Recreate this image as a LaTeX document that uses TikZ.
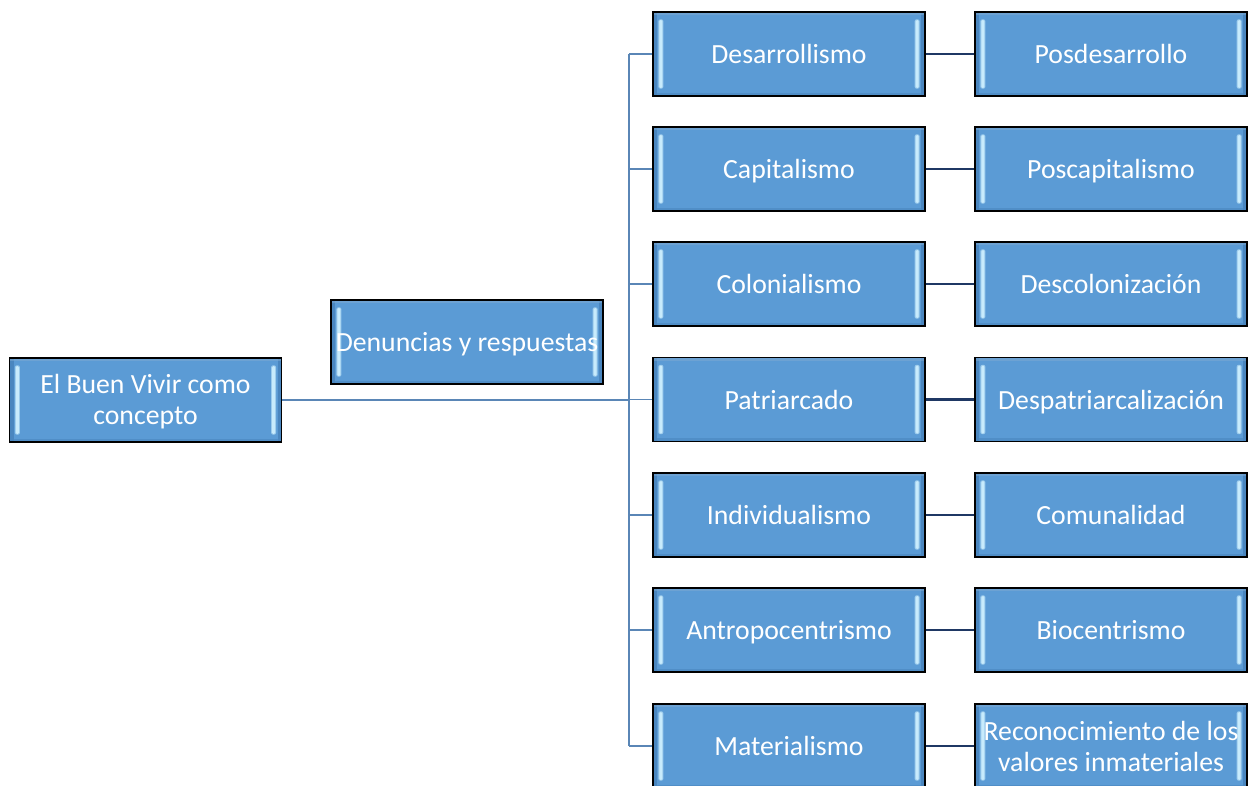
\documentclass[tikz,border=0pt]{standalone}
\usepackage{fontspec}
\setmainfont{Carlito}
\definecolor{boxblue}{HTML}{5B9BD5}
\definecolor{bevel}{HTML}{C8EBFC}
\definecolor{edgeblue}{HTML}{4A86BF}
\definecolor{conn}{HTML}{5A86B6}
\definecolor{link}{HTML}{1F3864}
\begin{document}
\begin{tikzpicture}[x=0.75pt,y=-0.75pt,
  box/.style={draw=black, line width=1.4pt, fill=boxblue, text=white,
    minimum width=204pt, minimum height=63pt, inner sep=0pt, align=center,
    font=\fontsize{20.8}{23.25}\selectfont,
    path picture={
      \fill[edgeblue] (path picture bounding box.north west) rectangle ([xshift=3pt]path picture bounding box.south west);
      \fill[edgeblue] (path picture bounding box.north east) rectangle ([xshift=-3pt]path picture bounding box.south east);
      \fill[edgeblue!70!white, opacity=0.5] (path picture bounding box.north west) rectangle ([yshift=-2.5pt]path picture bounding box.north east);
      \fill[edgeblue, opacity=0.6] ([yshift=2.5pt]path picture bounding box.south west) rectangle (path picture bounding box.south east);
      \fill[bevel!60!boxblue, rounded corners=1.5pt] ([xshift=4pt,yshift=-5.5pt]path picture bounding box.north west) rectangle ([xshift=7.8pt,yshift=5.5pt]path picture bounding box.south west);
      \fill[bevel!60!boxblue, rounded corners=1.5pt] ([xshift=-4pt,yshift=-5.5pt]path picture bounding box.north east) rectangle ([xshift=-7.8pt,yshift=5.5pt]path picture bounding box.south east);
      \fill[bevel, rounded corners=1pt] ([xshift=4.8pt,yshift=-6pt]path picture bounding box.north west) rectangle ([xshift=7pt,yshift=6pt]path picture bounding box.south west);
      \fill[bevel, rounded corners=1pt] ([xshift=-4.8pt,yshift=-6pt]path picture bounding box.north east) rectangle ([xshift=-7pt,yshift=6pt]path picture bounding box.south east);
    }},
  one/.style={text height=17pt, text depth=2.5pt},
  connline/.style={draw=conn, line width=1.2pt},
  linkline/.style={draw=link, line width=1.8pt}]
\useasboundingbox (0,0) rectangle (1252,785);
\clip (0,0) rectangle (1252,785);

\node[box] (root) at (145.5,400) {\raisebox{-1.9pt}[\height][\depth]{\begin{tabular}{@{}c@{}}El Buen Vivir como\\concepto\end{tabular}}};
\node[box, one] (den) at (467,342) {Denuncias y respuestas};

\node[box, one] (l1) at (789,54) {Desarrollismo};
\node[box, one] (l2) at (789,169) {Capitalismo};
\node[box, one] (l3) at (789,284) {Colonialismo};
\node[box, one] (l4) at (789,399.5) {Patriarcado};
\node[box, one] (l5) at (789,515) {Individualismo};
\node[box, one] (l6) at (789,630) {Antropocentrismo};
\node[box, one] (l7) at (789,746) {Materialismo};

\node[box, one] (r1) at (1111,54) {Posdesarrollo};
\node[box, one] (r2) at (1111,169) {Poscapitalismo};
\node[box, one] (r3) at (1111,284) {Descolonización};
\node[box, one] (r4) at (1111,399.5) {Despatriarcalización};
\node[box, one] (r5) at (1111,515) {Comunalidad};
\node[box, one] (r6) at (1111,630) {Biocentrismo};
\node[box] (r7) at (1111,746) {Reconocimiento de los\\valores inmateriales};

\coordinate (jt) at (629,54);
\coordinate (jb) at (629,746);

\draw[connline] (root.east) -- (root.east -| jt);
\draw[connline] (jt) -- (jb);
\foreach \i in {1,...,7} {
  \draw[connline] (l\i.west -| jt) -- (l\i.west);
  \draw[linkline] (l\i.east) -- (r\i.west);
}
\end{tikzpicture}
\end{document}
